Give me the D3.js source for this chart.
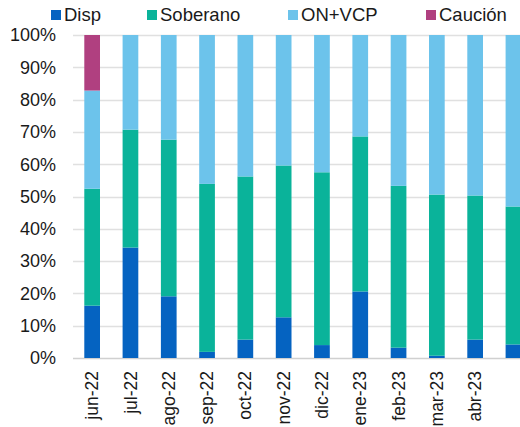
<!DOCTYPE html>
<html>
<head>
<meta charset="utf-8">
<script src="https://cdn.jsdelivr.net/npm/d3@7"></script>
<style>
  body { margin: 0; background: #fff; }
  svg { display: block; font-family: "Liberation Sans", Arial, sans-serif; }
</style>
</head>
<body>
<svg class="chart" width="520" height="427"></svg>
<script>
const MONTHS = ["jun-22","jul-22","ago-22","sep-22","oct-22","nov-22","dic-22","ene-23","feb-23","mar-23","abr-23",""];
const SERIES = ["Disp","Soberano","ON+VCP","Caución"];
const COLORS = ["#0563C1","#0AB39A","#6CC3EB","#B04080"];
const DISP     = [16.2, 34.2, 19.1,  1.9,  5.7, 12.6,  4.0, 20.6,  3.2,  0.7,  5.7,  4.2];
const SOBERANO = [36.2, 36.5, 48.5, 52.0, 50.5, 47.0, 53.5, 48.0, 50.1, 49.9, 44.6, 42.7];
const ON_VCP   = [30.4, 29.3, 32.4, 46.1, 43.8, 40.4, 42.5, 31.4, 46.7, 49.4, 49.7, 53.1];
const CAUCION  = [17.2,  0,    0,    0,    0,    0,    0,    0,    0,    0,    0,    0  ];
const Y_TICKS = [0,10,20,30,40,50,60,70,80,90,100];

const PLOT_LEFT = 73;
const PLOT_TOP = 35;
const PLOT_BOTTOM = 358;
const BAND = 38.3;

const svg = d3.select("svg.chart");

const rows = MONTHS.map((m, i) => ({
    month: i,
    "Disp": DISP[i],
    "Soberano": SOBERANO[i],
    "ON+VCP": ON_VCP[i],
    "Caución": CAUCION[i]
}));

const x = d3.scaleBand()
    .domain(d3.range(MONTHS.length))
    .range([PLOT_LEFT, PLOT_LEFT + BAND * MONTHS.length])
    .paddingInner(0.59)
    .paddingOuter(0.295);

const y = d3.scaleLinear().domain([0, 100]).range([PLOT_BOTTOM, PLOT_TOP]);
const color = d3.scaleOrdinal().domain(SERIES).range(COLORS);

// gridlines
svg.append("g")
    .selectAll("line")
    .data(Y_TICKS)
    .enter().append("line")
    .attr("x1", PLOT_LEFT)
    .attr("x2", 520)
    .attr("y1", d => Math.round(y(d)) + 0.5)
    .attr("y2", d => Math.round(y(d)) + 0.5)
    .attr("stroke", d => d === 0 ? "#d0d0d0" : "#e0e0e0")
    .attr("stroke-width", 1.5);

const stack = d3.stack().keys(SERIES);
const layers = stack(rows);

svg.append("g")
    .selectAll("g")
    .data(layers)
    .enter().append("g")
    .attr("fill", d => color(d.key))
    .selectAll("rect")
    .data(d => d.filter(p => p[1] - p[0] > 0))
    .enter().append("rect")
    .attr("x", d => x(d.data.month))
    .attr("width", x.bandwidth())
    .attr("y", d => y(d[1]))
    .attr("height", d => y(d[0]) - y(d[1]));

// y axis labels
svg.append("g")
    .selectAll("text")
    .data(Y_TICKS)
    .enter().append("text")
    .attr("x", 56)
    .attr("y", d => y(d))
    .attr("dy", "0.35em")
    .attr("text-anchor", "end")
    .attr("font-size", 18)
    .attr("fill", "#1a1a1a")
    .text(d => d + "%");

// x axis labels
svg.append("g")
    .selectAll("text")
    .data(MONTHS)
    .enter().append("text")
    .attr("transform", (d, i) => `translate(${x(i) + x.bandwidth() / 2},371) rotate(-90)`)
    .attr("dy", "0.35em")
    .attr("text-anchor", "end")
    .attr("font-size", 17.5)
    .attr("fill", "#1a1a1a")
    .text(d => d);

// legend
const LEGEND_X = [51, 147, 288, 426];
const legend = svg.append("g")
    .selectAll("g")
    .data(SERIES)
    .enter().append("g")
    .attr("transform", (d, i) => `translate(${LEGEND_X[i]},15)`);

legend.append("rect")
    .attr("x", 0)
    .attr("y", -5)
    .attr("width", 10)
    .attr("height", 10)
    .attr("fill", d => color(d));

legend.append("text")
    .attr("x", 13)
    .attr("dy", "0.35em")
    .attr("font-size", 18.5)
    .attr("fill", "#1a1a1a")
    .text(d => d);
</script>
</body>
</html>
